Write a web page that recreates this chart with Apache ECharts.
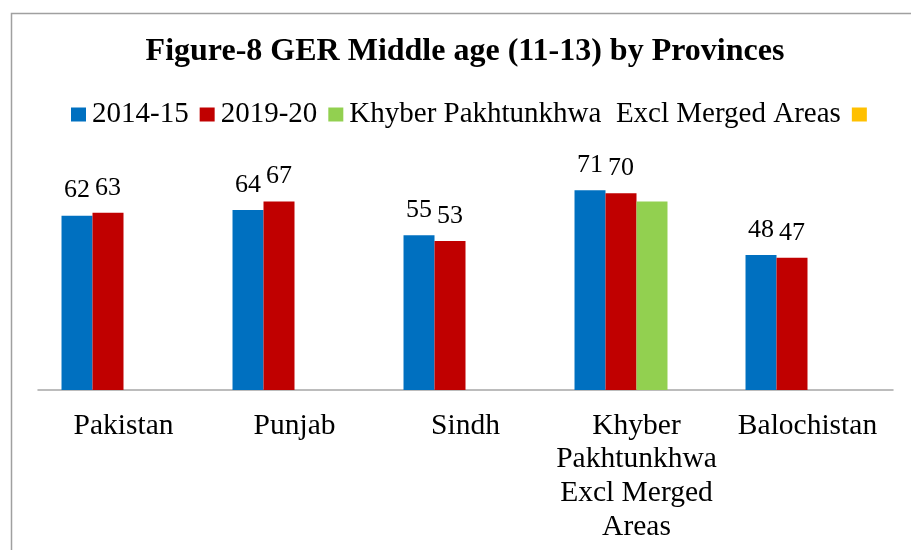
<!DOCTYPE html>
<html>
<head>
<meta charset="utf-8">
<script src="https://cdn.jsdelivr.net/npm/echarts@6/dist/echarts.min.js"></script>
<style>html,body{margin:0;padding:0;background:#fff;}#c{width:911px;height:550px;}</style>
</head>
<body>
<div id="c"></div>
<script>
const titleText = 'Figure-8 GER Middle age (11-13) by Provinces';
const categories = ['Pakistan', 'Punjab', 'Sindh', 'Khyber Pakhtunkhwa Excl Merged Areas', 'Balochistan'];
const categoryLabels = ['Pakistan', 'Punjab', 'Sindh', 'Khyber\nPakhtunkhwa\nExcl Merged\nAreas', 'Balochistan'];
const seriesNames = ['2014-15', '2019-20', 'Khyber Pakhtunkhwa  Excl Merged Areas', ' '];
const values2014 = [62, 64, 55, 71, 48];
const values2019 = [63, 67, 53, 70, 47];
const valuesKP = [null, null, null, 67, null];
const valuesExtra = [null, null, null, null, null];
const colors = ['#0070C0', '#C00000', '#92D050', '#FFC000'];

const FONT = "'Liberation Serif', 'Times New Roman', serif";
const chart = echarts.init(document.getElementById('c'));
const labelOn = {show: true, position: 'top', distance: 12, color: '#000', fontFamily: FONT, fontSize: 26};
const allData = [values2014, values2019, valuesKP, valuesExtra];
chart.setOption({
  animation: false,
  color: colors,
  graphic: [{
    type: 'rect', left: 9, top: 11, silent: true,
    shape: {x: 0, y: 0, width: 1000, height: 1000},
    style: {fill: 'none', stroke: '#a0a0a0', lineWidth: 1.5}
  }],
  title: {
    text: titleText, left: 460, top: 31, textAlign: 'center',
    textStyle: {fontFamily: FONT, fontWeight: 'bold', fontSize: 32, color: '#000'}
  },
  legend: {
    left: 66, top: 95, itemWidth: 15, itemHeight: 14, itemGap: 11,
    icon: 'rect',
    data: seriesNames,
    textStyle: {fontFamily: FONT, fontSize: 29, color: '#000', padding: [0, 0, 0, 1]}
  },
  grid: {left: 38, right: 18, top: 165, bottom: 160, containLabel: false},
  xAxis: {
    type: 'category', data: categories,
    axisLine: {lineStyle: {color: '#a6a6a6', width: 1.5}},
    axisTick: {show: false},
    axisLabel: {
      interval: 0, margin: 19, color: '#000', fontFamily: FONT, fontSize: 29.5, lineHeight: 33.7,
      formatter: (v, i) => categoryLabels[i]
    }
  },
  yAxis: {type: 'value', min: 0, max: 80, show: false, splitLine: {show: false}},
  series: allData.map((d, i) => ({
    type: 'bar', name: seriesNames[i], data: d,
    barGap: '0%', barCategoryGap: '27.5%',
    label: i < 2 ? labelOn : {show: false}
  }))
});
</script>
</body>
</html>
